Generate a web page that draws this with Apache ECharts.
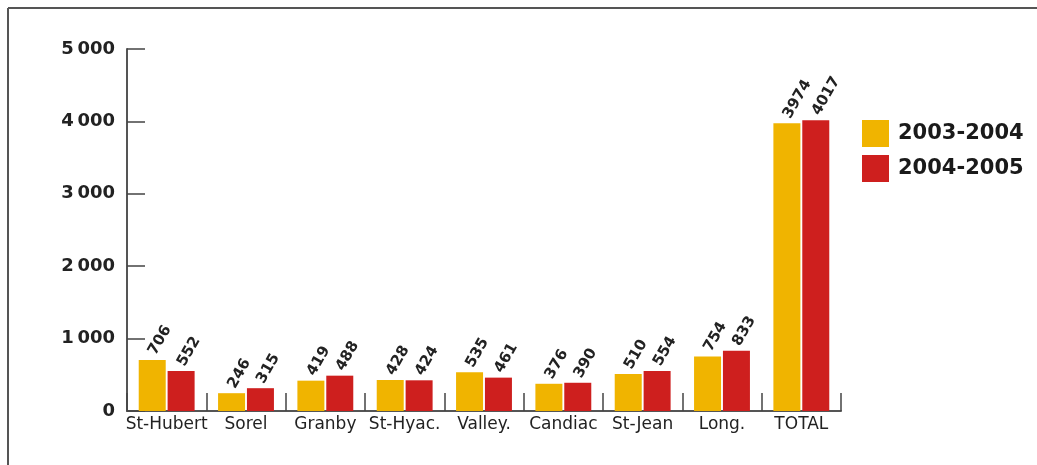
<!DOCTYPE html>
<html>
<head>
<meta charset="utf-8">
<script src="https://cdn.jsdelivr.net/npm/echarts@6/dist/echarts.min.js"></script>
<style>html,body{margin:0;padding:0;background:#fff}#c{width:1037px;height:465px}</style>
</head>
<body>
<div id="c"></div>
<script>
const categories = ['St-Hubert', 'Sorel', 'Granby', 'St-Hyac.', 'Valley.', 'Candiac', 'St-Jean', 'Long.', 'TOTAL'];
const series2003 = [706, 246, 419, 428, 535, 376, 510, 754, 3974];
const series2004 = [552, 315, 488, 424, 461, 390, 554, 833, 4017];
const seriesNames = ['2003-2004', '2004-2005'];
const yTicks = [0, 1000, 2000, 3000, 4000, 5000];

const FONT = '"DejaVu Sans", sans-serif';
const chart = echarts.init(document.getElementById('c'), null, {renderer: 'canvas'});

const labelCfg = {
  show: true, position: 'top', rotate: 60, align: 'left', verticalAlign: 'middle',
  distance: 6, color: '#222', fontFamily: FONT, fontWeight: 'bold', fontSize: 15
};

chart.setOption({
  animation: false,
  backgroundColor: '#fff',
  graphic: [
    {type: 'line', shape: {x1: 8, y1: 8, x2: 1037, y2: 8}, style: {stroke: '#555', lineWidth: 2}},
    {type: 'line', shape: {x1: 8, y1: 8, x2: 8, y2: 465}, style: {stroke: '#555', lineWidth: 2}}
  ],
  legend: {
    orient: 'vertical', left: 862, top: 120, padding: 0,
    itemWidth: 27, itemHeight: 27, itemGap: 8,
    icon: 'rect',
    textStyle: {fontFamily: FONT, fontWeight: 'bold', fontSize: 21, color: '#1a1a1a', padding: [0, 0, 0, 4]},
    data: seriesNames
  },
  grid: {left: 127, right: 196, top: 49, bottom: 54, containLabel: false},
  xAxis: {
    type: 'category', data: categories,
    axisLine: {lineStyle: {color: '#555', width: 2}},
    axisTick: {show: true, inside: true, length: 18, interval: 0, lineStyle: {color: '#444', width: 1.5}},
    axisLabel: {interval: 0, margin: 5, color: '#222', fontFamily: FONT, fontSize: 17}
  },
  yAxis: {
    type: 'value', min: yTicks[0], max: yTicks[yTicks.length - 1], interval: 1000,
    splitLine: {show: false},
    axisLine: {show: true, lineStyle: {color: '#555', width: 2}},
    axisTick: {show: true, inside: true, length: 18, lineStyle: {color: '#444', width: 1.5}},
    axisLabel: {
      margin: 12, color: '#222', fontFamily: FONT, fontWeight: 'bold', fontSize: 18,
      formatter: v => v >= 1000 ? (Math.floor(v / 1000) + '\u2009' + String(v % 1000).padStart(3, '0')) : String(v)
    }
  },
  series: [
    {name: seriesNames[0], type: 'bar', data: series2003, barWidth: 27, barGap: '7%',
     itemStyle: {color: '#F0B400'}, label: labelCfg},
    {name: seriesNames[1], type: 'bar', data: series2004, barWidth: 27,
     itemStyle: {color: '#CE1F1E'}, label: labelCfg}
  ]
});
</script>
</body>
</html>
